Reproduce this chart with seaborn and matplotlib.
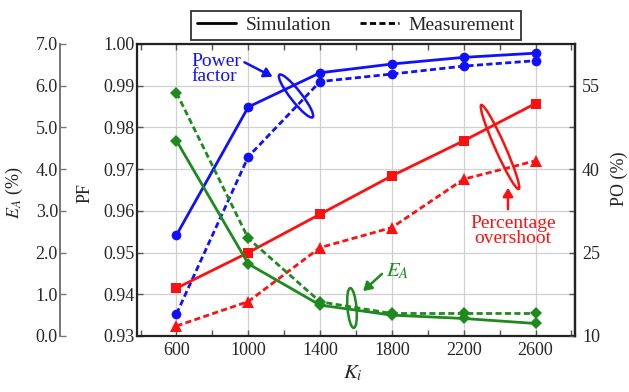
import numpy as np
import pandas as pd
import matplotlib
matplotlib.use("Agg")
import matplotlib.pyplot as plt
import seaborn as sns
from matplotlib.patches import Ellipse, FancyArrowPatch
from matplotlib.lines import Line2D
from matplotlib import transforms
from matplotlib.ticker import MultipleLocator, FixedLocator, FormatStrFormatter

# ---------------- data ----------------
ki = [600, 1000, 1400, 1800, 2200, 2600]
pf_sim = [0.9542, 0.9849, 0.9931, 0.9952, 0.9968, 0.9978]
pf_meas = [0.9353, 0.9730, 0.9910, 0.9928, 0.9947, 0.9960]
po_sim = [18.6, 25.0, 31.9, 38.8, 45.1, 51.8]
po_meas = [11.8, 16.2, 25.9, 29.5, 38.2, 41.5]
ea_sim = [4.68, 1.73, 0.74, 0.50, 0.42, 0.30]
ea_meas = [5.83, 2.34, 0.82, 0.54, 0.54, 0.54]

pf_ticks = [0.93, 0.94, 0.95, 0.96, 0.97, 0.98, 0.99, 1.00]
po_ticks = [10, 25, 40, 55]
ea_ticks = [0.0, 1.0, 2.0, 3.0, 4.0, 5.0, 6.0, 7.0]
ki_ticks = [600, 1000, 1400, 1800, 2200, 2600]

df = pd.DataFrame({"Ki": ki, "pf_sim": pf_sim, "pf_meas": pf_meas,
                   "po_sim": po_sim, "po_meas": po_meas,
                   "ea_sim": ea_sim, "ea_meas": ea_meas})

# ---------------- style ----------------
sns.set_theme(style="white")
plt.rcParams["font.family"] = ["Liberation Serif", "DejaVu Serif"]
plt.rcParams["mathtext.fontset"] = "stix"

W, H = 629, 392
PT = 72 / 100  # points per pixel
fig = plt.figure(figsize=(W / 100, H / 100), dpi=100)
L, R, T, B = 137, 575, 44, 336
ax = fig.add_axes([L / W, 1 - B / H, (R - L) / W, (B - T) / H])
ax_po = ax.twinx()
ax_ea = ax.twinx()

BLUE = "#1010ff"
RED = "#ff1010"
GREEN = "#1e8a1e"
lw = 2.0
dash = (2.2, 1.2)

sns.lineplot(data=df, x="Ki", y="pf_sim", ax=ax, color=BLUE, lw=lw,
             marker="o", markersize=7, markeredgewidth=0)
sns.lineplot(data=df, x="Ki", y="pf_meas", ax=ax, color=BLUE, lw=lw,
             marker="o", markersize=7, markeredgewidth=0,
             linestyle=(0, dash))
sns.lineplot(data=df, x="Ki", y="po_sim", ax=ax_po, color=RED, lw=lw,
             marker="s", markersize=7.5, markeredgewidth=0)
sns.lineplot(data=df, x="Ki", y="po_meas", ax=ax_po, color=RED, lw=lw,
             marker="^", markersize=8, markeredgewidth=0,
             linestyle=(0, dash))
sns.lineplot(data=df, x="Ki", y="ea_sim", ax=ax_ea, color=GREEN, lw=lw,
             marker="D", markersize=6.5, markeredgewidth=0)
sns.lineplot(data=df, x="Ki", y="ea_meas", ax=ax_ea, color=GREEN, lw=lw,
             marker="D", markersize=6.5, markeredgewidth=0,
             linestyle=(0, dash))

# ---------------- axes ----------------
ax.set_xlim(380, 2820)
ax.set_ylim(0.93, 1.00)
ax_po.set_ylim(10, 62.5)
ax_ea.set_ylim(0, 7)

FS = 13
ax.xaxis.set_major_locator(FixedLocator(ki_ticks))
ax.xaxis.set_minor_locator(MultipleLocator(200))
ax.yaxis.set_major_locator(FixedLocator(pf_ticks))
ax.yaxis.set_major_formatter(FormatStrFormatter("%.2f"))
ax.tick_params(axis="x", which="both", direction="in", top=True, bottom=True,
               length=4, width=1, labelsize=FS, pad=4, color="#555555")
ax.tick_params(axis="y", which="both", direction="in", left=True, length=4,
               width=1, labelsize=FS, pad=1.5, color="#555555")
ax.grid(True, which="major", color="#d0d0d0", lw=0.9)
ax.set_axisbelow(True)
for s in ax.spines.values():
    s.set_color("#222222")
    s.set_linewidth(1.6)

ax_po.yaxis.set_major_locator(FixedLocator(po_ticks))
ax_po.yaxis.set_minor_locator(FixedLocator([17.5, 32.5, 47.5]))
ax_po.tick_params(axis="y", which="both", direction="in", right=True,
                  length=4, width=1, labelsize=FS, pad=5, color="#555555")
ax_po.spines["left"].set_visible(False)
ax_po.spines["top"].set_visible(False)
ax_po.spines["bottom"].set_visible(False)
ax_po.spines["right"].set_color("#222222")
ax_po.spines["right"].set_linewidth(1.6)

ax_ea.yaxis.set_label_position("left")
ax_ea.yaxis.tick_left()
ax_ea.spines["left"].set_position(("outward", (L - 60) * PT))
for k in ["right", "top", "bottom"]:
    ax_ea.spines[k].set_visible(False)
ax_ea.spines["left"].set_color("#777777")
ax_ea.spines["left"].set_linewidth(1.4)
ax_ea.yaxis.set_major_locator(FixedLocator(ea_ticks))
ax_ea.yaxis.set_major_formatter(FormatStrFormatter("%.1f"))
ax_ea.tick_params(axis="y", which="both", direction="in", left=True, right=False,
                  length=4, width=1, labelsize=FS, pad=1.5, color="#777777")

for a in (ax, ax_po, ax_ea):
    a.set_xlabel("")
    a.set_ylabel("")

ax.set_xlabel(r"$K_i$", fontsize=15)
ax.xaxis.set_label_coords((353 - L) / (R - L), (B - 364) / (B - T))
ax.set_ylabel("PF", fontsize=FS)
ax.yaxis.set_label_coords((94 - L) / (R - L), 0.49)
ax_ea.set_ylabel(r"$E_A$ (%)", fontsize=FS)
ax_ea.yaxis.set_label_coords((25 - L) / (R - L), 0.49)
ax_po.set_ylabel("PO (%)", fontsize=FS, rotation=90)
ax_po.yaxis.set_label_coords((611 - L) / (R - L), 0.54)

# ---------------- legend ----------------
handles = [Line2D([], [], color="black", lw=2, linestyle="-"),
           Line2D([], [], color="black", lw=2, linestyle=(0, dash))]
leg = fig.legend(handles, ["Simulation", "Measurement"], ncol=2,
                 loc="upper center", bbox_to_anchor=(356 / W, 0.998),
                 frameon=True, fancybox=False, fontsize=14,
                 handlelength=2.0, columnspacing=1.5, borderpad=0.3,
                 handletextpad=0.5)
leg.get_frame().set_edgecolor("black")
leg.get_frame().set_linewidth(1.3)

# ---------------- annotations ----------------
def fp(x, y):
    return (x / W, 1 - y / H)

ident = transforms.IdentityTransform()

def loop(cx, cy, length, width, angle, color):
    e = Ellipse((cx, H - cy), width=length, height=width, angle=angle,
                fill=False, edgecolor=color, lw=1.8, transform=ident,
                zorder=10)
    fig.add_artist(e)

def arrow(p0, p1, color):
    fig.add_artist(FancyArrowPatch(
        fp(*p0), fp(*p1), transform=fig.transFigure, color=color,
        arrowstyle="-|>,head_length=5,head_width=3", lw=1.8))

fig.text(*fp(191, 69), "Power\nfactor", color=BLUE, fontsize=14,
         ha="left", va="center", linespacing=0.92)
arrow((242, 61), (275, 78), BLUE)
loop(296, 96, 54, 11, -52, BLUE)

fig.text(*fp(513, 231), "Percentage\novershoot", color=RED, fontsize=14,
         ha="center", va="center", linespacing=0.92)
arrow((508, 212), (508, 185), RED)
loop(500, 147, 92, 10, -66, RED)

fig.text(*fp(386, 271), r"$E_A$", color=GREEN, fontsize=15,
         ha="left", va="center")
arrow((384, 272), (361, 293), GREEN)
loop(352, 308, 40, 9, 95, GREEN)

fig.savefig("out.png", dpi=100)
